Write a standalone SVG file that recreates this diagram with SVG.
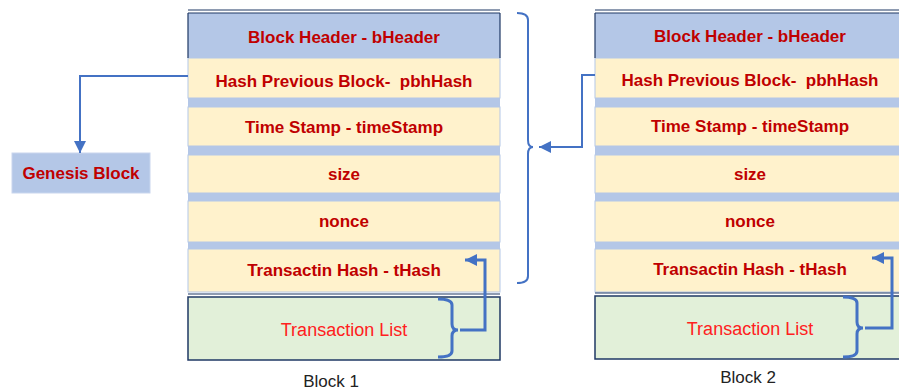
<svg xmlns="http://www.w3.org/2000/svg" width="899" height="391" viewBox="0 0 899 391">
<defs>
<style>
.hdr{fill:#b4c7e7;}
.row{fill:#fff2cc;stroke:#b4c7e7;stroke-width:1;}
.frame{fill:none;stroke:#1f3864;stroke-width:1.2;}
.tl{fill:#e2f0d9;stroke:#1f3864;stroke-width:1.5;}
.bt{font-family:"Liberation Sans",Arial,sans-serif;font-weight:bold;font-size:17px;fill:#c00000;text-anchor:middle;white-space:pre;}
.tt{font-family:"Liberation Sans",Arial,sans-serif;font-size:18px;fill:#ff2020;text-anchor:middle;}
.lbl{font-family:"Liberation Sans",Arial,sans-serif;font-size:17px;fill:#222;text-anchor:middle;}
.con{fill:none;stroke:#4472c4;stroke-width:2;}
.brace{fill:none;stroke:#4472c4;stroke-width:3;}
</style>
<marker id="ah" markerUnits="userSpaceOnUse" markerWidth="12" markerHeight="12" viewBox="0 0 12 12" refX="12" refY="6" orient="auto">
<path d="M0,0 L12,6 L0,12 z" fill="#4472c4"/>
</marker>
</defs>

<g id="block1">
<rect x="188" y="13" width="312" height="279" class="hdr"/>
<rect x="188" y="58" width="312" height="40" class="row"/>
<rect x="188" y="107" width="312" height="39" class="row"/>
<rect x="188" y="155" width="312" height="38" class="row"/>
<rect x="188" y="201" width="312" height="41" class="row"/>
<rect x="188" y="249" width="312" height="43" class="row"/>
<line x1="188" y1="10" x2="500" y2="10" class="frame"/>
<line x1="188" y1="13" x2="500" y2="13" class="frame"/>
<path d="M188,13 V58 M500,13 V58" class="frame"/>
<line x1="188" y1="294" x2="500" y2="294" class="frame"/>
<rect x="188" y="297" width="312" height="63" class="tl"/>
<text x="344" y="43" class="bt">Block Header - bHeader</text>
<text x="344" y="87" class="bt">Hash Previous Block-  pbhHash</text>
<text x="344" y="133" class="bt">Time Stamp - timeStamp</text>
<text x="344" y="180" class="bt">size</text>
<text x="344" y="227" class="bt">nonce</text>
<text x="344" y="276" class="bt">Transactin Hash - tHash</text>
<text x="344" y="336" class="tt">Transaction List</text>
<text x="331" y="387" class="lbl">Block 1</text>
</g>

<g id="block2">
<rect x="595" y="13" width="312" height="279" class="hdr"/>
<rect x="595" y="58" width="312" height="40" class="row"/>
<rect x="595" y="107" width="312" height="39" class="row"/>
<rect x="595" y="155" width="312" height="38" class="row"/>
<rect x="595" y="201" width="312" height="41" class="row"/>
<rect x="595" y="249" width="312" height="43" class="row"/>
<line x1="595" y1="10" x2="907" y2="10" class="frame"/>
<line x1="595" y1="13" x2="907" y2="13" class="frame"/>
<path d="M595,13 V58" class="frame"/>
<line x1="595" y1="293" x2="907" y2="293" class="frame"/>
<rect x="595" y="296" width="312" height="63" class="tl"/>
<text x="750" y="42" class="bt">Block Header - bHeader</text>
<text x="750" y="86" class="bt">Hash Previous Block-  pbhHash</text>
<text x="750" y="132" class="bt">Time Stamp - timeStamp</text>
<text x="750" y="180" class="bt">size</text>
<text x="750" y="227" class="bt">nonce</text>
<text x="750" y="275" class="bt">Transactin Hash - tHash</text>
<text x="750" y="335" class="tt">Transaction List</text>
<text x="748" y="383" class="lbl">Block 2</text>
</g>

<g id="genesis">
<rect x="12" y="153" width="138" height="40" fill="#b4c7e7" stroke="#c9d6ee" stroke-width="1"/>
<text x="81" y="179" class="bt">Genesis Block</text>
</g>

<g id="connectors">
<path d="M188,76 H80 V153" class="con" marker-end="url(#ah)"/>
<path d="M517,13 Q528,13 528,20 V140 Q528,147 533,147 Q528,147 528,154 V276 Q528,283 517,283" class="con"/>
<path d="M595,75 H582 V147 H539" class="con" marker-end="url(#ah)"/>
<path d="M438,299 Q452,299 452,305 V324 Q452,330 458,330 Q452,330 452,336 V351 Q452,357 438,357" class="brace"/>
<path d="M460,330 H485 V260 H465" class="brace" marker-end="url(#ah)"/>
<path d="M843,297 Q857,297 857,303 V322 Q857,328 863,328 Q857,328 857,334 V351 Q857,357 843,357" class="brace"/>
<path d="M865,328 H892 V258 H872" class="brace" marker-end="url(#ah)"/>
</g>
</svg>
